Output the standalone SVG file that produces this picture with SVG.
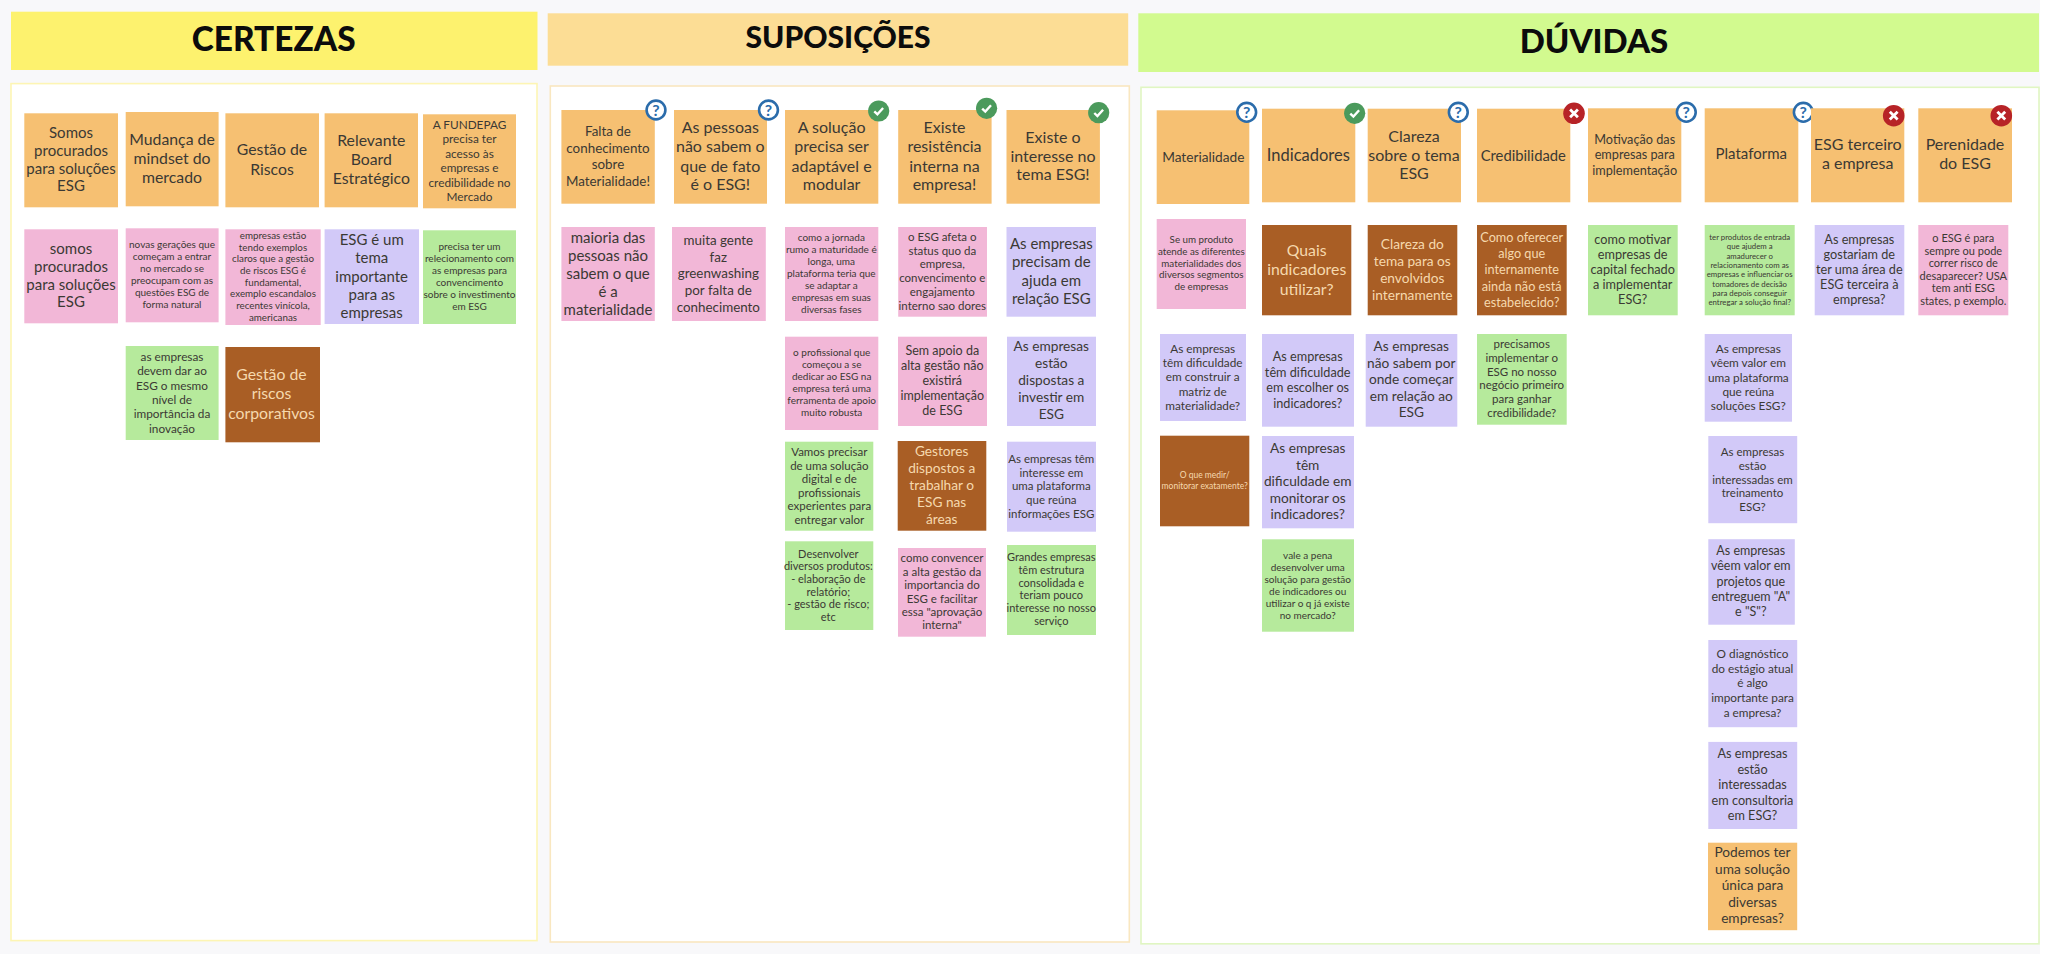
<svg xmlns="http://www.w3.org/2000/svg" width="2048" height="954" viewBox="0 0 2048 954">
<style>
text{font-family:"Lato","Liberation Sans",sans-serif;text-anchor:middle;fill:#3b3934}
.title{font-weight:900;fill:#0c0c0c}
.o{fill:#f6c072}.p{fill:#f2b7d7}.l{fill:#d2c9f8}.g{fill:#b6ea9c}.b{fill:#a95e25}
text.lt{fill:#f6d9ae}
.f78{font-size:7.8px}.f85{font-size:8.5px}.f98{font-size:9.8px}.f10{font-size:10px}.f11{font-size:11px}.f115{font-size:11.5px}.f12{font-size:11.8px}.f125{font-size:12.5px}.f13{font-size:12.7px}.f135{font-size:13.4px}.f14{font-size:13.7px}.f145{font-size:13.7px}.f148{font-size:14.8px}.f155{font-size:15px}.f16{font-size:16px}.f165{font-size:15.8px}.f17{font-size:16.5px}
</style>
<defs>
<g id="iq"><circle r="9.4" fill="#fff" stroke="#2b6cab" stroke-width="2.6"/><text y="5.6" style="font-size:16px;font-weight:700;fill:#2b6cab">?</text></g>
<g id="ic"><circle r="10.6" fill="#4b9a5c"/><path d="M-4.4 0.3 L-1.3 3.3 L4.4 -3" fill="none" stroke="#fff" stroke-width="2.4"/></g>
<g id="ix"><circle r="10.8" fill="#b72327"/><path d="M-3.9 -3.9 L3.9 3.9 M3.9 -3.9 L-3.9 3.9" fill="none" stroke="#fff" stroke-width="2.8"/></g>
</defs>
<rect width="2048" height="954" fill="#fff"/>
<rect width="2040" height="954" fill="#f8f8fa"/>

<g id="frames">
<g id="h-certezas"><rect x="11" y="11.7" width="526.5" height="58.3" fill="#fdf26e"/><text class="title" x="273.7" y="51" style="font-size:33.4px">CERTEZAS</text></g>
<rect x="11" y="83.6" width="526" height="857" fill="#fff" stroke="#fdf5b4" stroke-width="1.6"/>
<g id="h-suposicoes"><rect x="547.7" y="13.3" width="580.5" height="52.4" fill="#fcdd95"/><text class="title" x="838" y="48.3" style="font-size:30px">SUPOSIÇÕES</text></g>
<rect x="550.3" y="86" width="579" height="856" fill="#fff" stroke="#f9e7c0" stroke-width="1.6"/>
<g id="h-duvidas"><rect x="1138.3" y="13.3" width="900.7" height="58.7" fill="#d2fa8f"/><text class="title" x="1594" y="52.7" style="font-size:33px">DÚVIDAS</text></g>
<rect x="1141" y="87.3" width="898" height="856.5" fill="#fff" stroke="#e0f6c2" stroke-width="1.6"/>
</g>

<g id="certezas">
<g id="c1a"><rect class="o" x="24.3" y="113.3" width="93.7" height="94"/><text class="f155" x="71" y="137.7"><tspan x="71">Somos</tspan><tspan x="71" dy="18">procurados</tspan><tspan x="71" dy="18">para soluções</tspan><tspan x="71" dy="17.6">ESG</tspan></text></g>
<g id="c2a"><rect class="o" x="125.7" y="112" width="92.9" height="94.3"/><text class="f165" x="172" y="145"><tspan x="172">Mudança de</tspan><tspan x="172" dy="19.1">mindset do</tspan><tspan x="172" dy="19">mercado</tspan></text></g>
<g id="c3a"><rect class="o" x="225.4" y="113.3" width="93.6" height="94"/><text class="f165" x="272" y="155.3"><tspan x="272">Gestão de</tspan><tspan x="272" dy="19.4">Riscos</tspan></text></g>
<g id="c4a"><rect class="o" x="324.6" y="113.3" width="93.4" height="94"/><text class="f165" x="371.3" y="145.7"><tspan x="371.3">Relevante</tspan><tspan x="371.3" dy="19.3">Board</tspan><tspan x="371.3" dy="19.3">Estratégico</tspan></text></g>
<g id="c5a"><rect class="o" x="423" y="114.3" width="93" height="94"/><text class="f12" x="469.5" y="129"><tspan x="469.5">A FUNDEPAG</tspan><tspan x="469.5" dy="14.4">precisa ter</tspan><tspan x="469.5" dy="14.4">acesso às</tspan><tspan x="469.5" dy="14.4">empresas e</tspan><tspan x="469.5" dy="14.4">credibilidade no</tspan><tspan x="469.5" dy="14.4">Mercado</tspan></text></g>
<g id="c1b"><rect class="p" x="24.3" y="229.3" width="93.7" height="94"/><text class="f155" x="71" y="254"><tspan x="71">somos</tspan><tspan x="71" dy="18">procurados</tspan><tspan x="71" dy="18">para soluções</tspan><tspan x="71" dy="17.4">ESG</tspan></text></g>
<g id="c2b"><rect class="p" x="125.7" y="228.3" width="92.9" height="94"/><text class="f10" x="172" y="248.3"><tspan x="172">novas gerações que</tspan><tspan x="172" dy="12">começam a entrar</tspan><tspan x="172" dy="12">no mercado se</tspan><tspan x="172" dy="12">preocupam com as</tspan><tspan x="172" dy="12">questões ESG de</tspan><tspan x="172" dy="12">forma natural</tspan></text></g>
<g id="c3b"><rect class="p" x="225.4" y="229.3" width="95.3" height="95.7"/><text class="f98" x="273" y="239"><tspan x="273">empresas estão</tspan><tspan x="273" dy="11.67">tendo exemplos</tspan><tspan x="273" dy="11.67">claros que a gestão</tspan><tspan x="273" dy="11.67">de riscos ESG é</tspan><tspan x="273" dy="11.67">fundamental,</tspan><tspan x="273" dy="11.67">exemplo escandalos</tspan><tspan x="273" dy="11.67">recentes vinícola,</tspan><tspan x="273" dy="11.67">americanas</tspan></text></g>
<g id="c4b"><rect class="l" x="324.6" y="229.3" width="94.4" height="94.7"/><text class="f155" x="371.7" y="245"><tspan x="371.7">ESG é um</tspan><tspan x="371.7" dy="18.3">tema</tspan><tspan x="371.7" dy="18.3">importante</tspan><tspan x="371.7" dy="18.1">para as</tspan><tspan x="371.7" dy="18">empresas</tspan></text></g>
<g id="c5b"><rect class="g" x="423" y="230.3" width="93" height="93.7"/><text class="f10" x="469.5" y="250.3"><tspan x="469.5">precisa ter um</tspan><tspan x="469.5" dy="12">relecionamento com</tspan><tspan x="469.5" dy="12">as empresas para</tspan><tspan x="469.5" dy="12">convencimento</tspan><tspan x="469.5" dy="12">sobre o investimento</tspan><tspan x="469.5" dy="12">em ESG</tspan></text></g>
<g id="c2c"><rect class="g" x="125.7" y="346" width="92.9" height="94"/><text class="f12" x="172" y="361"><tspan x="172">as empresas</tspan><tspan x="172" dy="14.35">devem dar ao</tspan><tspan x="172" dy="14.35">ESG o mesmo</tspan><tspan x="172" dy="14.35">nível de</tspan><tspan x="172" dy="14.35">importância da</tspan><tspan x="172" dy="14.35">inovação</tspan></text></g>
<g id="c3c"><rect class="b" x="225.4" y="347" width="94.6" height="95.3"/><text class="f165 lt" x="271.5" y="380"><tspan x="271.5">Gestão de</tspan><tspan x="271.5" dy="19.3">riscos</tspan><tspan x="271.5" dy="19.4">corporativos</tspan></text></g>
</g>

<g id="suposicoes">
<g id="s1a"><rect class="o" x="561.4" y="110" width="93.4" height="93.7"/><text class="f135" x="608" y="136"><tspan x="608">Falta de</tspan><tspan x="608" dy="16.7">conhecimento</tspan><tspan x="608" dy="16.7">sobre</tspan><tspan x="608" dy="16.6">Materialidade!</tspan></text><use href="#iq" x="656" y="110"/></g>
<g id="s2a"><rect class="o" x="674" y="110" width="93" height="93.7"/><text class="f16" x="720.3" y="133.3"><tspan x="720.3">As pessoas</tspan><tspan x="720.3" dy="19">não sabem o</tspan><tspan x="720.3" dy="19.4">que de fato</tspan><tspan x="720.3" dy="18.3">é o ESG!</tspan></text><use href="#iq" x="768.5" y="110"/></g>
<g id="s3a"><rect class="o" x="785" y="110" width="93.3" height="93.7"/><text class="f16" x="831.6" y="133.3"><tspan x="831.6">A solução</tspan><tspan x="831.6" dy="19">precisa ser</tspan><tspan x="831.6" dy="19.4">adaptável e</tspan><tspan x="831.6" dy="18.3">modular</tspan></text><use href="#ic" x="878.7" y="111"/></g>
<g id="s4a"><rect class="o" x="898.2" y="110" width="93.4" height="93.7"/><text class="f16" x="944.5" y="133.3"><tspan x="944.5">Existe</tspan><tspan x="944.5" dy="19">resistência</tspan><tspan x="944.5" dy="19.4">interna na</tspan><tspan x="944.5" dy="18.3">empresa!</tspan></text><use href="#ic" x="986.6" y="108.3"/></g>
<g id="s5a"><rect class="o" x="1006.5" y="110" width="93.4" height="93.7"/><text class="f16" x="1053" y="143"><tspan x="1053">Existe o</tspan><tspan x="1053" dy="18.7">interesse no</tspan><tspan x="1053" dy="18.6">tema ESG!</tspan></text><use href="#ic" x="1098.7" y="112.7"/></g>
<g id="s1b"><rect class="p" x="561.4" y="227" width="93.4" height="94"/><text class="f155" x="608" y="242.7"><tspan x="608">maioria das</tspan><tspan x="608" dy="18.3">pessoas não</tspan><tspan x="608" dy="18">sabem o que</tspan><tspan x="608" dy="17.7">é a</tspan><tspan x="608" dy="18">materialidade</tspan></text></g>
<g id="s2b"><rect class="p" x="672" y="227" width="93.8" height="94"/><text class="f135" x="718.3" y="245"><tspan x="718.3">muita gente</tspan><tspan x="718.3" dy="16.7">faz</tspan><tspan x="718.3" dy="16.7">greenwashing</tspan><tspan x="718.3" dy="16.7">por falta de</tspan><tspan x="718.3" dy="16.7">conhecimento</tspan></text></g>
<g id="s3b"><rect class="p" x="785" y="227" width="93.3" height="94"/><text class="f10" x="831.3" y="240.7"><tspan x="831.3">como a jornada</tspan><tspan x="831.3" dy="12">rumo a maturidade é</tspan><tspan x="831.3" dy="12">longa, uma</tspan><tspan x="831.3" dy="12">plataforma teria que</tspan><tspan x="831.3" dy="12">se adaptar a</tspan><tspan x="831.3" dy="12">empresas em suas</tspan><tspan x="831.3" dy="12">diversas fases</tspan></text></g>
<g id="s4b"><rect class="p" x="898.2" y="227" width="88.8" height="89.7"/><text class="f115" x="942.3" y="240.7"><tspan x="942.3">o ESG afeta o</tspan><tspan x="942.3" dy="13.8">status quo da</tspan><tspan x="942.3" dy="13.8">empresa,</tspan><tspan x="942.3" dy="13.8">convencimento e</tspan><tspan x="942.3" dy="13.8">engajamento</tspan><tspan x="942.3" dy="13.8">interno sao dores</tspan></text></g>
<g id="s5b"><rect class="l" x="1006.5" y="227" width="89.5" height="89.7"/><text class="f155" x="1051.3" y="249"><tspan x="1051.3">As empresas</tspan><tspan x="1051.3" dy="18.3">precisam de</tspan><tspan x="1051.3" dy="18.3">ajuda em</tspan><tspan x="1051.3" dy="18">relação ESG</tspan></text></g>
<g id="s3c"><rect class="p" x="785" y="336.7" width="93.3" height="93.3"/><text class="f10" x="831.7" y="356"><tspan x="831.7">o profissional que</tspan><tspan x="831.7" dy="12">começou a se</tspan><tspan x="831.7" dy="12">dedicar ao ESG na</tspan><tspan x="831.7" dy="12">empresa terá uma</tspan><tspan x="831.7" dy="12">ferramenta de apoio</tspan><tspan x="831.7" dy="12">muito robusta</tspan></text></g>
<g id="s4c"><rect class="p" x="898" y="336.7" width="89" height="89.3"/><text class="f125" x="942.3" y="355.3"><tspan x="942.3">Sem apoio da</tspan><tspan x="942.3" dy="14.8">alta gestão não</tspan><tspan x="942.3" dy="14.8">existirá</tspan><tspan x="942.3" dy="14.8">implementação</tspan><tspan x="942.3" dy="14.8">de ESG</tspan></text></g>
<g id="s5c"><rect class="l" x="1007" y="336.7" width="89" height="89.3"/><text class="f145" x="1051.3" y="351.3"><tspan x="1051.3">As empresas</tspan><tspan x="1051.3" dy="17">estão</tspan><tspan x="1051.3" dy="17">dispostas a</tspan><tspan x="1051.3" dy="17">investir em</tspan><tspan x="1051.3" dy="17">ESG</tspan></text></g>
<g id="s3d"><rect class="g" x="785" y="441.7" width="88.3" height="89"/><text class="f115" x="829.3" y="456"><tspan x="829.3">Vamos precisar</tspan><tspan x="829.3" dy="13.5">de uma solução</tspan><tspan x="829.3" dy="13.5">digital e de</tspan><tspan x="829.3" dy="13.5">profissionais</tspan><tspan x="829.3" dy="13.5">experientes para</tspan><tspan x="829.3" dy="13.5">entregar valor</tspan></text></g>
<g id="s4d"><rect class="b" x="897.7" y="441" width="88.6" height="89.7"/><text class="f145 lt" x="941.7" y="456"><tspan x="941.7">Gestores</tspan><tspan x="941.7" dy="17">dispostos a</tspan><tspan x="941.7" dy="17">trabalhar o</tspan><tspan x="941.7" dy="17">ESG nas</tspan><tspan x="941.7" dy="17">áreas</tspan></text></g>
<g id="s5d"><rect class="l" x="1007" y="441.7" width="89" height="90"/><text class="f115" x="1051.3" y="463"><tspan x="1051.3">As empresas têm</tspan><tspan x="1051.3" dy="13.7">interesse em</tspan><tspan x="1051.3" dy="13.7">uma plataforma</tspan><tspan x="1051.3" dy="13.7">que reúna</tspan><tspan x="1051.3" dy="13.7">informações ESG</tspan></text></g>
<g id="s3e"><rect class="g" x="785" y="541.3" width="88.3" height="88.7"/><text class="f11" x="828.3" y="557.7"><tspan x="828.3">Desenvolver</tspan><tspan x="828.3" dy="12.6">diversos produtos:</tspan><tspan x="828.3" dy="12.6">- elaboração de</tspan><tspan x="828.3" dy="12.6">relatório;</tspan><tspan x="828.3" dy="12.6">- gestão de risco;</tspan><tspan x="828.3" dy="12.6">etc</tspan></text></g>
<g id="s4e"><rect class="p" x="898" y="548" width="88" height="88.7"/><text class="f115" x="942" y="562.3"><tspan x="942">como convencer</tspan><tspan x="942" dy="13.4">a alta gestão da</tspan><tspan x="942" dy="13.4">importancia do</tspan><tspan x="942" dy="13.4">ESG e facilitar</tspan><tspan x="942" dy="13.4">essa "aprovação</tspan><tspan x="942" dy="13.4">interna"</tspan></text></g>
<g id="s5e"><rect class="g" x="1007" y="545" width="89" height="90"/><text class="f11" x="1051.3" y="561"><tspan x="1051.3">Grandes empresas</tspan><tspan x="1051.3" dy="12.8">têm estrutura</tspan><tspan x="1051.3" dy="12.8">consolidada e</tspan><tspan x="1051.3" dy="12.8">teriam pouco</tspan><tspan x="1051.3" dy="12.8">interesse no nosso</tspan><tspan x="1051.3" dy="12.8">serviço</tspan></text></g>
</g>

<g id="duvidas">
<g id="d1a"><rect class="o" x="1156.7" y="110.3" width="92.6" height="93.7"/><text class="f14" x="1203.3" y="161.7">Materialidade</text><use href="#iq" x="1246.7" y="112.3"/></g>
<g id="d2a"><rect class="o" x="1262" y="108.7" width="93.3" height="93.6"/><text class="f17" x="1308.3" y="160.7">Indicadores</text><use href="#ic" x="1354.7" y="113.3"/></g>
<g id="d3a"><rect class="o" x="1367.7" y="108.7" width="93.3" height="93.6"/><text class="f16" x="1414" y="141.7"><tspan x="1414">Clareza</tspan><tspan x="1414" dy="19">sobre o tema</tspan><tspan x="1414" dy="18.7">ESG</tspan></text><use href="#iq" x="1458.3" y="112.3"/></g>
<g id="d4a"><rect class="o" x="1477" y="108.7" width="93.3" height="93.6"/><text class="f148" x="1523.3" y="160.7">Credibilidade</text><use href="#ix" x="1574" y="113.3"/></g>
<g id="d5a"><rect class="o" x="1588" y="108.3" width="93.3" height="94"/><text class="f13" x="1634.7" y="143.7"><tspan x="1634.7">Motivação das</tspan><tspan x="1634.7" dy="15.5">empresas para</tspan><tspan x="1634.7" dy="15.5">implementação</tspan></text><use href="#iq" x="1686.3" y="112.3"/></g>
<g id="d6a"><rect class="o" x="1704.7" y="108.3" width="93.6" height="94"/><text class="f155" x="1751.3" y="159.3">Plataforma</text><use href="#iq" x="1803.3" y="112.3"/></g>
<g id="d7a"><rect class="o" x="1811" y="108.3" width="93.3" height="94"/><text class="f16" x="1857.7" y="150"><tspan x="1857.7">ESG terceiro</tspan><tspan x="1857.7" dy="19.3">a empresa</tspan></text><use href="#ix" x="1893.7" y="115.7"/></g>
<g id="d8a"><rect class="o" x="1918.3" y="108.3" width="93.7" height="94"/><text class="f16" x="1965" y="150"><tspan x="1965">Perenidade</tspan><tspan x="1965" dy="19.3">do ESG</tspan></text><use href="#ix" x="2001.3" y="115.7"/></g>
<g id="d1b"><rect class="p" x="1156.7" y="219" width="89.3" height="90"/><text class="f98" x="1201.3" y="243.3"><tspan x="1201.3">Se um produto</tspan><tspan x="1201.3" dy="11.7">atende as diferentes</tspan><tspan x="1201.3" dy="11.7">materialidades dos</tspan><tspan x="1201.3" dy="11.7">diversos segmentos</tspan><tspan x="1201.3" dy="11.7">de empresas</tspan></text></g>
<g id="d2b"><rect class="b" x="1262" y="225" width="89.3" height="90.3"/><text class="f165 lt" x="1306.7" y="255.7"><tspan x="1306.7">Quais</tspan><tspan x="1306.7" dy="19.6">indicadores</tspan><tspan x="1306.7" dy="19.7">utilizar?</tspan></text></g>
<g id="d3b"><rect class="b" x="1367.7" y="225" width="89.6" height="90.3"/><text class="f14 lt" x="1412.3" y="248.7"><tspan x="1412.3">Clareza do</tspan><tspan x="1412.3" dy="17.2">tema para os</tspan><tspan x="1412.3" dy="17.2">envolvidos</tspan><tspan x="1412.3" dy="17">internamente</tspan></text></g>
<g id="d4b"><rect class="b" x="1477" y="225" width="89.7" height="90.3"/><text class="f13 lt" x="1521.7" y="241.7"><tspan x="1521.7">Como oferecer</tspan><tspan x="1521.7" dy="16.3">algo que</tspan><tspan x="1521.7" dy="16.2">internamente</tspan><tspan x="1521.7" dy="16.3">ainda não está</tspan><tspan x="1521.7" dy="16.2">estabelecido?</tspan></text></g>
<g id="d5b"><rect class="g" x="1588" y="225" width="89.7" height="90.3"/><text class="f13" x="1632.7" y="244"><tspan x="1632.7">como motivar</tspan><tspan x="1632.7" dy="15">empresas de</tspan><tspan x="1632.7" dy="15">capital fechado</tspan><tspan x="1632.7" dy="15">a implementar</tspan><tspan x="1632.7" dy="14.7">ESG?</tspan></text></g>
<g id="d6b"><rect class="g" x="1704.7" y="225" width="90" height="90.3"/><text class="f78" x="1749.7" y="240"><tspan x="1749.7">ter produtos de entrada</tspan><tspan x="1749.7" dy="9.3">que ajudem a</tspan><tspan x="1749.7" dy="9.3">amadurecer o</tspan><tspan x="1749.7" dy="9.3">relacionamento com as</tspan><tspan x="1749.7" dy="9.3">empresas e influenciar os</tspan><tspan x="1749.7" dy="9.3">tomadores de decisão</tspan><tspan x="1749.7" dy="9.3">para depois conseguir</tspan><tspan x="1749.7" dy="9.3">entregar a solução final?</tspan></text></g>
<g id="d7b"><rect class="l" x="1814.7" y="225" width="89.6" height="90.3"/><text class="f13" x="1859.3" y="244"><tspan x="1859.3">As empresas</tspan><tspan x="1859.3" dy="15">gostariam de</tspan><tspan x="1859.3" dy="15">ter uma área de</tspan><tspan x="1859.3" dy="15">ESG terceira à</tspan><tspan x="1859.3" dy="14.7">empresa?</tspan></text></g>
<g id="d8b"><rect class="p" x="1918.3" y="225" width="90" height="90.3"/><text class="f11" x="1963.3" y="242"><tspan x="1963.3">o ESG é para</tspan><tspan x="1963.3" dy="12.6">sempre ou pode</tspan><tspan x="1963.3" dy="12.6">correr risco de</tspan><tspan x="1963.3" dy="12.6">desaparecer? USA</tspan><tspan x="1963.3" dy="12.6">tem anti ESG</tspan><tspan x="1963.3" dy="12.6">states, p exemplo.</tspan></text></g>
<g id="d1c"><rect class="l" x="1160" y="334" width="86" height="87"/><text class="f12" x="1202.7" y="352.7"><tspan x="1202.7">As empresas</tspan><tspan x="1202.7" dy="14.3">têm dificuldade</tspan><tspan x="1202.7" dy="14.3">em construir a</tspan><tspan x="1202.7" dy="14.3">matriz de</tspan><tspan x="1202.7" dy="14.3">materialidade?</tspan></text></g>
<g id="d2c"><rect class="l" x="1262" y="334" width="92" height="92.7"/><text class="f13" x="1307.7" y="361"><tspan x="1307.7">As empresas</tspan><tspan x="1307.7" dy="15.6">têm dificuldade</tspan><tspan x="1307.7" dy="15.6">em escolher os</tspan><tspan x="1307.7" dy="15.5">indicadores?</tspan></text></g>
<g id="d3c"><rect class="l" x="1365.7" y="334" width="91.6" height="92.7"/><text class="f14" x="1411.3" y="351.3"><tspan x="1411.3">As empresas</tspan><tspan x="1411.3" dy="16.5">não sabem por</tspan><tspan x="1411.3" dy="16.5">onde começar</tspan><tspan x="1411.3" dy="16.5">em relação ao</tspan><tspan x="1411.3" dy="16.5">ESG</tspan></text></g>
<g id="d4c"><rect class="g" x="1477" y="334" width="89.7" height="90.7"/><text class="f115" x="1521.7" y="348.3"><tspan x="1521.7">precisamos</tspan><tspan x="1521.7" dy="13.7">implementar o</tspan><tspan x="1521.7" dy="13.7">ESG no nosso</tspan><tspan x="1521.7" dy="13.7">negócio primeiro</tspan><tspan x="1521.7" dy="13.7">para ganhar</tspan><tspan x="1521.7" dy="13.7">credibilidade?</tspan></text></g>
<g id="d6c"><rect class="l" x="1704.7" y="334" width="87.3" height="87.7"/><text class="f12" x="1748.3" y="352.7"><tspan x="1748.3">As empresas</tspan><tspan x="1748.3" dy="14.4">vêem valor em</tspan><tspan x="1748.3" dy="14.4">uma plataforma</tspan><tspan x="1748.3" dy="14.4">que reúna</tspan><tspan x="1748.3" dy="14.4">soluções ESG?</tspan></text></g>
<g id="d1d"><rect class="b" x="1160" y="435.7" width="89.3" height="90.6"/><text class="f85 lt" x="1204.7" y="478.3"><tspan x="1204.7">O que medir/</tspan><tspan x="1204.7" dy="10.4">monitorar exatamente?</tspan></text></g>
<g id="d2d"><rect class="l" x="1262" y="436" width="92" height="92.3"/><text class="f14" x="1307.7" y="453.3"><tspan x="1307.7">As empresas</tspan><tspan x="1307.7" dy="16.4">têm</tspan><tspan x="1307.7" dy="16.6">dificuldade em</tspan><tspan x="1307.7" dy="16.6">monitorar os</tspan><tspan x="1307.7" dy="16.1">indicadores?</tspan></text></g>
<g id="d2e"><rect class="g" x="1262" y="539.3" width="92" height="92.4"/><text class="f10" x="1307.7" y="559"><tspan x="1307.7">vale a pena</tspan><tspan x="1307.7" dy="11.9">desenvolver uma</tspan><tspan x="1307.7" dy="11.9">solução para gestão</tspan><tspan x="1307.7" dy="11.9">de indicadores ou</tspan><tspan x="1307.7" dy="11.9">utilizar o q já existe</tspan><tspan x="1307.7" dy="11.9">no mercado?</tspan></text></g>
<g id="d6d"><rect class="l" x="1708.3" y="436" width="88.9" height="87.2"/><text class="f115" x="1752.5" y="456"><tspan x="1752.5">As empresas</tspan><tspan x="1752.5" dy="13.75">estão</tspan><tspan x="1752.5" dy="13.75">interessadas em</tspan><tspan x="1752.5" dy="13.75">treinamento</tspan><tspan x="1752.5" dy="13.75">ESG?</tspan></text></g>
<g id="d6e"><rect class="l" x="1708.3" y="539.2" width="86.5" height="85.5"/><text class="f125" x="1750.8" y="555.2"><tspan x="1750.8">As empresas</tspan><tspan x="1750.8" dy="15.15">vêem valor em</tspan><tspan x="1750.8" dy="15.15">projetos que</tspan><tspan x="1750.8" dy="15.15">entreguem "A"</tspan><tspan x="1750.8" dy="15.15">e "S"?</tspan></text></g>
<g id="d6f"><rect class="l" x="1708.3" y="640" width="88.9" height="87.2"/><text class="f12" x="1752.5" y="658"><tspan x="1752.5">O diagnóstico</tspan><tspan x="1752.5" dy="14.7">do estágio atual</tspan><tspan x="1752.5" dy="14.7">é algo</tspan><tspan x="1752.5" dy="14.7">importante para</tspan><tspan x="1752.5" dy="14.7">a empresa?</tspan></text></g>
<g id="d6g"><rect class="l" x="1708.3" y="741.9" width="88.9" height="87.1"/><text class="f13" x="1752.5" y="757.9"><tspan x="1752.5">As empresas</tspan><tspan x="1752.5" dy="15.6">estão</tspan><tspan x="1752.5" dy="15.6">interessadas</tspan><tspan x="1752.5" dy="15.6">em consultoria</tspan><tspan x="1752.5" dy="15.6">em ESG?</tspan></text></g>
<g id="d6h"><rect class="o" x="1708" y="842.7" width="89.2" height="87.5"/><text class="f14" x="1752.5" y="857"><tspan x="1752.5">Podemos ter</tspan><tspan x="1752.5" dy="16.6">uma solução</tspan><tspan x="1752.5" dy="16.6">única para</tspan><tspan x="1752.5" dy="16.6">diversas</tspan><tspan x="1752.5" dy="16.6">empresas?</tspan></text></g>
</g>
<g id="connectors"/>
</svg>
